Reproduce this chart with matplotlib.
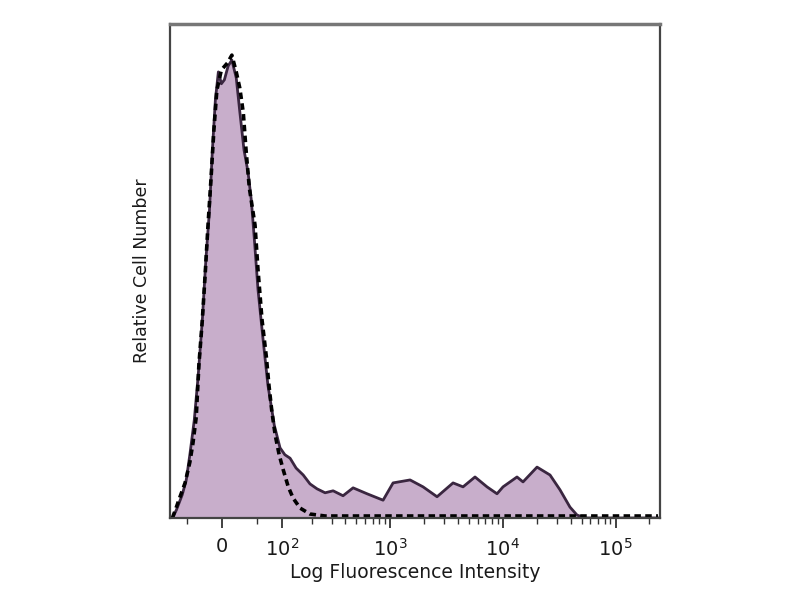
import numpy as np
import matplotlib
matplotlib.use('Agg')
import matplotlib.pyplot as plt

# stained sample (filled histogram)
stain_x = [-78, -70, -59, -52, -46, -39, -33, -27, -22, -17, -13, -9, -5, -1, 3, 8, 13, 19, 24, 30,
           36, 41, 46, 52, 61, 70, 83, 96, 108, 122, 140, 164, 190, 221, 262, 310, 381, 469, 625,
           868, 1065, 1507, 1965, 2615, 3627, 4446, 5677, 7254, 8897, 10058, 13380, 15130,
           20140, 26260, 32190, 39470, 45520, 53560, 238000]
stain_y = [0, 1.6, 4.7, 7.7, 12.8, 19.8, 28.9, 40.1, 52.2, 62.3, 74.5, 84.6, 90.3, 87.9, 88.7, 91.5,
           92.7, 89.1, 82.2, 74.5, 70.0, 64.4, 56.3, 46.2, 36.0, 26.9, 18.8, 14.2, 12.8, 12.1, 10.1,
           8.7, 6.9, 5.9, 5.1, 5.5, 4.5, 6.1, 4.9, 3.6, 7.1, 7.7, 6.3, 4.3, 7.1, 6.3, 8.3, 6.3, 4.9,
           6.3, 8.3, 7.3, 10.3, 8.7, 5.7, 2.2, 0.6, 0, 0]

# isotype control (dashed)
iso_x = [-78, -72, -63, -54, -46, -41, -36, -32, -27, -23, -19, -15, -11, -7, -1, 7, 13, 19, 24,
         29, 33, 38, 42, 47, 52, 59, 67, 72, 78, 85, 94, 104, 117, 131, 153, 190, 262, 238000]
iso_y = [0, 1.6, 4.3, 7.1, 11.3, 15.2, 20.4, 31.0, 40.1, 49.2, 59.3, 68.4, 78.5, 86.6, 90.7, 92.1,
         93.7, 90.3, 87.0, 82.0, 74.5, 66.8, 63.4, 59.3, 50.2, 40.1, 32.6, 26.9, 21.5, 16.8, 12.8,
         9.7, 6.3, 4.0, 2.0, 0.8, 0.4, 0.4]

major_ticks = [0, 1e2, 1e3, 1e4, 1e5]
major_labels = ['0', '$10^2$', '$10^3$', '$10^4$', '$10^5$']

fig = plt.figure(figsize=(8, 6), dpi=100)
ax = fig.add_axes([0.2125, 0.1367, 0.6125, 0.8233])
ax.set_xscale('asinh', linear_width=65)

ax.fill_between(stain_x, stain_y, 0, color='#c8aecb', lw=0)
ax.plot(stain_x, stain_y, color='#3a2640', lw=2)
ax.plot(iso_x, iso_y, color='black', lw=2.6, dashes=(1.8, 1.2))

ax.set_xlim(-83, 248000)
ax.set_ylim(0, 100)

minor = [-50, 50]
for d in [1e2, 1e3, 1e4]:
    minor += [k * d for k in range(2, 10)]
minor += [2e5]
ax.set_xticks(major_ticks)
ax.set_xticklabels(major_labels, fontsize=14, color='#1a1a1a')
ax.set_xticks(minor, minor=True)
ax.xaxis.set_minor_formatter(matplotlib.ticker.NullFormatter())
ax.tick_params(axis='x', which='major', length=7, width=1.3, direction='out', color='#333', pad=7)
ax.tick_params(axis='x', which='minor', length=4, width=1, direction='out', color='#333')
ax.set_yticks([])

for s in ax.spines.values():
    s.set_color('#444')
    s.set_linewidth(1.6)
ax.spines['top'].set_color('#777')
ax.spines['top'].set_linewidth(2.5)

ax.set_xlabel('Log Fluorescence Intensity', fontsize=13.5, color='#1a1a1a', labelpad=3)
ax.set_ylabel('Relative Cell Number', fontsize=12.5, color='#1a1a1a', labelpad=14)

fig.savefig('out.png', dpi=100)
